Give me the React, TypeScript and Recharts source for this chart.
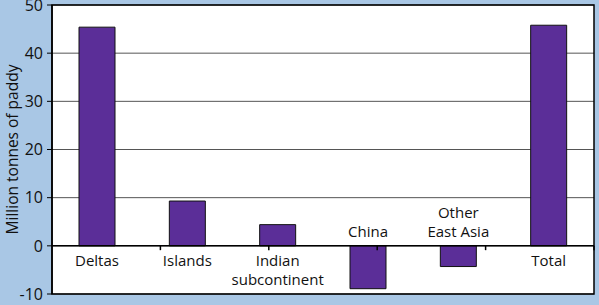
import React from 'react';
import {
  BarChart,
  Bar,
  XAxis,
  YAxis,
  CartesianGrid,
  ReferenceLine,
  ReferenceArea,
  LabelList
} from 'recharts';

const regions = ['Deltas', 'Islands', 'Indian\nsubcontinent', 'China', 'Other\nEast Asia', 'Total'];
const paddy = [45.4, 9.3, 4.4, -8.9, -4.3, 45.8];
const yTicks = [-10, 0, 10, 20, 30, 40, 50];
const boundaries = [1, 2, 3, 4, 5];

const data = regions.map((name, i) => ({ name, value: paddy[i] }));

const FONT = '"Open Sans", sans-serif';

const RegionLabel = (props: any) => {
  const { x, y, width, height, index } = props;
  const lines = regions[index].split('\n');
  const top = Math.min(y, y + height);
  const bottom = Math.max(y, y + height);
  const cx = x + width / 2;
  const lineH = 19;
  const startY = paddy[index] >= 0 ? bottom + 20 : top - 9 - (lines.length - 1) * lineH;
  return (
    <text x={cx} y={startY} textAnchor="middle" fontSize={15} fill="#111" fontFamily={FONT}>
      {lines.map((l, i) => (
        <tspan key={i} x={cx} dy={i === 0 ? 0 : lineH}>{l}</tspan>
      ))}
    </text>
  );
};

const App: React.FC = () => {
  return (
    <div style={{ width: 599, height: 305, background: '#a9c7e5' }}>
      <style>{'body{margin:0}'}</style>
      <BarChart
        width={599}
        height={305}
        data={data}
        margin={{ top: 5, right: 5, left: 0, bottom: 11 }}
        barSize={36}
      >
        <CartesianGrid horizontal vertical={false} fill="#fff" stroke="#555" strokeWidth={1} />
        <XAxis dataKey="name" hide />
        <XAxis xAxisId="b" type="number" domain={[0, 6]} hide />
        <YAxis
          domain={[-10, 50]}
          ticks={yTicks}
          width={52}
          interval={0}
          axisLine={{ stroke: '#000', strokeWidth: 1.5 }}
          tickLine={{ stroke: '#000' }}
          tickSize={5}
          tickMargin={4}
          tick={{ fill: '#111', fontSize: 16, fontFamily: FONT }}
          label={{
            value: 'Million tonnes of paddy',
            angle: -90,
            position: 'insideLeft',
            offset: 0,
            dx: 12,
            style: { textAnchor: 'middle', fill: '#111', fontSize: 15.5, fontFamily: FONT }
          }}
        />
        <ReferenceArea y1={-10} y2={50} fill="none" stroke="#000" strokeWidth={1.5} />
        <ReferenceLine y={0} stroke="#000" strokeWidth={1.5} />
        {boundaries.map((b) => (
          <ReferenceLine
            key={b}
            xAxisId="b"
            segment={[{ x: b, y: 0 }, { x: b, y: -0.9 }]}
            stroke="#000"
            strokeWidth={1.5}
          />
        ))}
        <Bar dataKey="value" fill="#5b2e98" stroke="#111" strokeWidth={1} isAnimationActive={false}>
          <LabelList dataKey="name" content={RegionLabel} />
        </Bar>
      </BarChart>
    </div>
  );
};

export default App;
